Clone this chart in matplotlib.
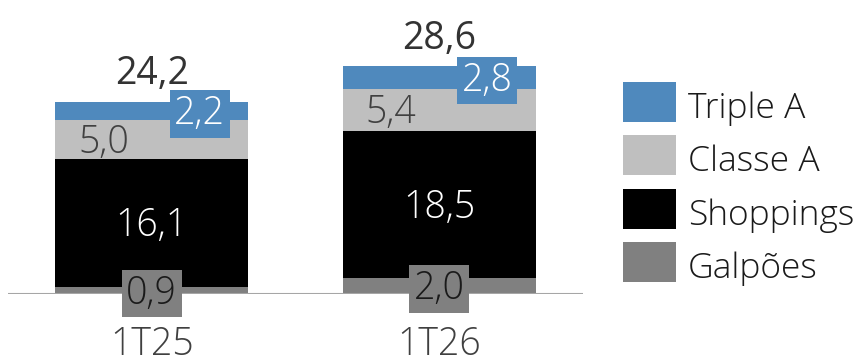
import matplotlib
matplotlib.use("Agg")
import matplotlib.pyplot as plt
from matplotlib.patches import Rectangle

# Receita por segmento (R$ milhões)
periods = ["1T25", "1T26"]
galpoes = [0.9, 2.0]
shoppings = [16.1, 18.5]
classe_a = [5.0, 5.4]
triple_a = [2.2, 2.8]
totals = [24.2, 28.6]

series_names = ["Galpões", "Shoppings", "Classe A", "Triple A"]
series_colors = ["#808080", "#000000", "#BFBFBF", "#4F89BD"]

plt.rcParams["font.family"] = ["Open Sans", "DejaVu Sans"]
plt.rcParams["font.weight"] = "light"

W, H = 863, 358
FS = 27
PX = 0.72  # points per pixel at 100 dpi

fig = plt.figure(figsize=(W / 100, H / 100), dpi=100)
ax = fig.add_axes([8 / W, (H - 294) / H, 575 / W, 294 / H])

x = list(range(len(periods)))
series = [galpoes, shoppings, classe_a, triple_a]
bottoms = [0.0] * len(periods)
seg_bottoms = []
for vals, color in zip(series, series_colors):
    ax.bar(x, vals, bottom=bottoms, width=0.67, color=color, linewidth=0, zorder=2)
    seg_bottoms.append(list(bottoms))
    bottoms = [b + v for b, v in zip(bottoms, vals)]

ax.set_xlim(-0.5, 1.5)
ax.set_ylim(0, 294 / 7.93)
ax.axhline(0, color="#A6A6A6", lw=1.5, zorder=3)
ax.axis("off")

half_digit = -0.357 * FS  # baseline shift to center digits vertically

def seg_label(i, s_idx, dx_px, color, box=None):
    v = series[s_idx][i]
    yc = seg_bottoms[s_idx][i] + v / 2
    kw = {}
    if box is not None:
        kw["bbox"] = dict(boxstyle="square,pad=0.12", fc=box, ec="none")
    ax.annotate(f"{v:.1f}".replace(".", ","), (i, yc), xytext=(dx_px * PX, half_digit),
                textcoords="offset points", ha="center", va="baseline",
                fontsize=FS, color=color, zorder=5, annotation_clip=False, **kw)

for i in x:
    seg_label(i, 0, 0, "#1A1A1A", box="#808080")
    seg_label(i, 1, 0, "white")
    seg_label(i, 2, -48, "#404040")
    seg_label(i, 3, 48, "white", box="#4F89BD")
    ax.annotate(f"{totals[i]:.1f}".replace(".", ","), (i, totals[i]),
                xytext=(0, 18.5 * PX), textcoords="offset points",
                ha="center", va="baseline", fontsize=FS, color="#333333",
                fontweight="normal", annotation_clip=False)
    ax.annotate(periods[i], (i, 0), xytext=(0, -61 * PX), textcoords="offset points",
                ha="center", va="baseline", fontsize=FS, color="#404040",
                annotation_clip=False)

# Legend, top entry first
for k, s_idx in enumerate([3, 2, 1, 0]):
    top = 82 + 53.3 * k
    fig.add_artist(Rectangle((623 / W, 1 - (top + 40) / H), 53 / W, 40 / H,
                             transform=fig.transFigure, fc=series_colors[s_idx], ec="none"))
    fig.text(688 / W, 1 - (118 + 53.3 * k) / H, series_names[s_idx],
             fontsize=25.5, color="#1A1A1A", ha="left", va="baseline")

fig.savefig("out.png", dpi=100)
